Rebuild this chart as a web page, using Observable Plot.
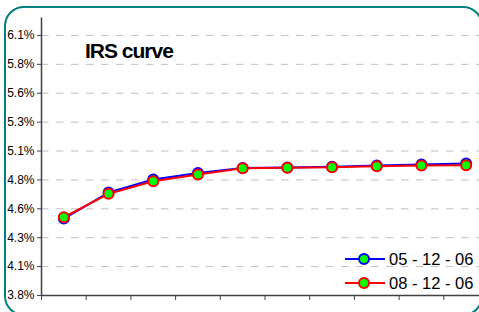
<!DOCTYPE html>
<html>
<head>
<meta charset="utf-8">
<script src="https://cdn.jsdelivr.net/npm/d3@7"></script>
<script src="https://cdn.jsdelivr.net/npm/@observablehq/plot@0.6"></script>
<style>
  html, body { margin: 0; padding: 0; background: #fff; }
  body { width: 479px; height: 312px; overflow: hidden; position: relative; font-family: "Liberation Sans", Arial, sans-serif; }
  #chart { position: absolute; left: 0; top: 0; }
  #frame { position: absolute; left: 4px; top: 6px; width: 479px; height: 310px; box-sizing: border-box;
           border: 2.5px solid #008080; border-radius: 20px; pointer-events: none; }
  #title { position: absolute; left: 85px; top: 39px; font-weight: bold; font-size: 21px; letter-spacing: -1px; color: #000; line-height: 24px; }
  .leg { position: absolute; left: 344px; height: 20px; display: flex; align-items: center; font-size: 16.5px; color: #000; }
  .leg svg { display: block; margin-right: 3px; }
</style>
</head>
<body>
<div id="chart"></div>
<div id="frame"></div>
<div id="title">IRS curve</div>
<div id="legend"></div>
<script>
const tenors = ["1Y","2Y","3Y","4Y","5Y","6Y","7Y","8Y","9Y","10Y"];
const seriesNames = ["05 - 12 - 06", "08 - 12 - 06"];
const seriesColors = ["#0000ff", "#ff0000"];
const values0512 = [4.466, 4.691, 4.803, 4.860, 4.903, 4.907, 4.913, 4.925, 4.933, 4.942];
const values0812 = [4.477, 4.680, 4.789, 4.847, 4.901, 4.905, 4.910, 4.918, 4.925, 4.927];
const yTicks = [3.8, 4.05, 4.3, 4.55, 4.8, 5.05, 5.3, 5.55, 5.8, 6.05];
const yLabels = ["3.8%", "4.1%", "4.3%", "4.6%", "4.8%", "5.1%", "5.3%", "5.6%", "5.8%", "6.1%"];

const rows = [];
[values0512, values0812].forEach((vals, s) => {
  vals.forEach((v, i) => rows.push({series: seriesNames[s], tenor: tenors[i], idx: i + 0.5, value: v}));
});
const boundaries = d3.range(tenors.length + 1);

const chart = Plot.plot({
  width: 479,
  height: 312,
  marginLeft: 41,
  marginRight: -9,
  marginTop: 17.6,
  marginBottom: 17,
  style: {background: "transparent", fontFamily: "'Liberation Sans', Arial, sans-serif"},
  x: {domain: [0, tenors.length]},
  y: {domain: [3.8, 6.2]},
  marks: [
    Plot.ruleY(yTicks.slice(1), {x1: 0, x2: tenors.length, stroke: "#c0c0c0", strokeWidth: 1, strokeDasharray: "7.5,7.5"}),
    Plot.axisY({ticks: yTicks, tickFormat: d => yLabels[yTicks.indexOf(d)], tickSize: 4, tickPadding: 3,
                stroke: "#404040", fill: "#000", fontSize: 12, label: null}),
    Plot.axisX({ticks: boundaries, tickFormat: () => "", tickSize: 5, stroke: "#404040", label: null}),
    Plot.ruleX([0], {y1: 3.8, y2: 6.2, stroke: "#404040", strokeWidth: 1.5}),
    Plot.ruleY([3.8], {x1: 0, x2: tenors.length, stroke: "#404040", strokeWidth: 1.5}),
    ...seriesNames.map((name, s) => [
      Plot.line(rows.filter(r => r.series === name), {x: "idx", y: "value", stroke: seriesColors[s], strokeWidth: 2}),
      Plot.dot(rows.filter(r => r.series === name), {x: "idx", y: "value", r: 5, fill: "#00ff00", stroke: seriesColors[s], strokeWidth: 2})
    ]).flat()
  ]
});
document.getElementById("chart").appendChild(chart);

const legend = document.getElementById("legend");
seriesNames.forEach((name, s) => {
  const div = document.createElement("div");
  div.className = "leg";
  div.style.top = (249 + s * 24) + "px";
  div.innerHTML = `<svg width="42" height="20"><line x1="1" x2="41" y1="10" y2="10" stroke="${seriesColors[s]}" stroke-width="2"/>` +
    `<circle cx="20" cy="10" r="5" fill="#00ff00" stroke="${seriesColors[s]}" stroke-width="2"/></svg><span>${name}</span>`;
  legend.appendChild(div);
});
</script>
</body>
</html>
